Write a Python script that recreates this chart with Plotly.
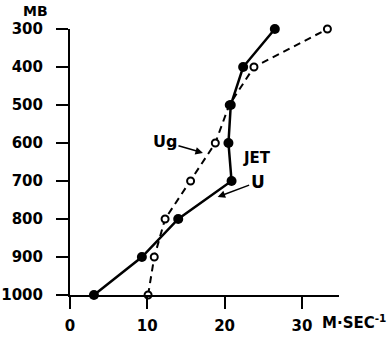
import plotly.graph_objects as go

pressure = [1000, 900, 800, 700, 600, 500, 400, 300]
u_wind = [3.1, 9.3, 14.0, 20.9, 20.5, 20.8, 22.4, 26.5]
ug_wind = [10.1, 10.9, 12.3, 15.6, 18.8, 20.6, 23.8, 33.3]
x_ticks = [0, 10, 20, 30]
y_ticks = [300, 400, 500, 600, 700, 800, 900, 1000]

FONT = "DejaVu Sans"
fig = go.Figure()
fig.add_trace(go.Scatter(
    x=ug_wind, y=pressure, mode="lines+markers", name="Ug",
    line=dict(color="black", width=2, dash="7px,5px"),
    marker=dict(symbol="circle", size=7, color="white", line=dict(color="black", width=2)),
    cliponaxis=False))
fig.add_trace(go.Scatter(
    x=u_wind, y=pressure, mode="lines+markers", name="U",
    line=dict(color="black", width=2.5),
    marker=dict(symbol="circle", size=10, color="black"),
    cliponaxis=False))

axis_font = dict(family=FONT, size=15, color="black", weight="bold")
fig.update_layout(
    width=388, height=341,
    margin=dict(l=70, r=49, t=29, b=46, autoexpand=False),
    paper_bgcolor="white", plot_bgcolor="white",
    showlegend=False,
    xaxis=dict(range=[0, 34.8], tickvals=x_ticks, ticktext=[str(v) for v in x_ticks],
               showgrid=False, zeroline=False, showline=True, linecolor="black", linewidth=2,
               ticks="outside", ticklen=12, tickwidth=2, tickcolor="black", automargin=False,
               tickfont=axis_font, ticklabelstandoff=4),
    yaxis=dict(range=[1000, 300], tickvals=y_ticks, ticktext=[str(v) for v in y_ticks],
               showgrid=False, zeroline=False, showline=True, linecolor="black", linewidth=2,
               ticks="outside", ticklen=12, tickwidth=2, tickcolor="black", automargin=False,
               tickfont=axis_font, ticklabelstandoff=10),
    annotations=[
        dict(text="MB", xref="paper", yref="paper", x=-35/269, y=1 + 18/266,
             xanchor="center", yanchor="middle",
             showarrow=False, font=dict(family=FONT, size=14, color="black", weight="bold")),
        dict(text="M·SEC<sup>-1</sup>", xref="paper", yref="paper", x=1.0, y=-27/266,
             xanchor="left", yanchor="middle", showarrow=False, xshift=-19,
             font=dict(family=FONT, size=15, color="black", weight="bold")),
        dict(text="Ug", x=17.2, y=626, ax=-38, ay=-11, showarrow=True, arrowhead=2,
             arrowsize=1, arrowwidth=1.5, arrowcolor="black",
             font=dict(family=FONT, size=16, color="black", weight="bold")),
        dict(text="JET", x=24.2, y=639, showarrow=False,
             font=dict(family=FONT, size=15, color="black", weight="bold")),
        dict(text="U", x=19.1, y=742, ax=40, ay=-15, showarrow=True, arrowhead=2,
             arrowsize=1, arrowwidth=1.5, arrowcolor="black",
             font=dict(family=FONT, size=17, color="black", weight="bold")),
    ],
)
fig.write_html("out.html", config={"displayModeBar": False},
               post_script="document.body.style.margin='0';")
